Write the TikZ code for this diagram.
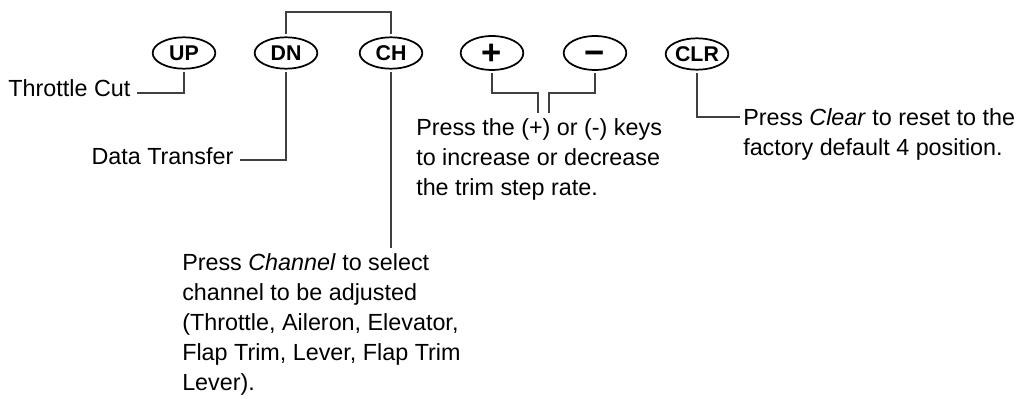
\documentclass[tikz,border=0pt]{standalone}
\usepackage{fontspec}
\setmainfont{Liberation Sans}
\usetikzlibrary{shapes.geometric,calc,positioning}

\begin{document}
\begin{tikzpicture}[
  x=0.75pt, y=-0.75pt,
  key/.style    = {ellipse, draw, line width=1.3pt, minimum width=47pt,
                   minimum height=23.5pt, inner sep=0pt, outer sep=2.5pt,
                   font=\fontsize{16}{16}\selectfont\bfseries},
  bigkey/.style = {key, text height=18pt, text depth=0pt,
                   font=\fontsize{26}{26}\selectfont\bfseries},
  wire/.style   = {black!75, line width=0.8pt},
  note/.style   = {inner sep=0pt, align=left,
                   font=\fontsize{17.5}{22.5}\selectfont},
  side/.style   = {note, outer xsep=5pt, text height=0.6em, text depth=0pt},
]
\useasboundingbox (0,0) rectangle (1016,399);

%% ---- keys ----------------------------------------------------------------
\node[key]    (up)    at (184,53) {UP};
\node[key]    (dn)    at (286,53) {DN};
\node[key]    (ch)    at (391,53) {CH};
\node[bigkey] (plus)  at (492,53) {+};
\node[bigkey] (minus) at (595,53) {−};
\node[key]    (clr)   at (697,54) {CLR};

%% ---- notes ---------------------------------------------------------------
\node[side, anchor=east] (thrcut) at (137,93) {Throttle Cut};
\node[side, anchor=east] (datatr) at (240,160) {Data Transfer};
\node[note, anchor=north west] (chtext) at (182,253)
  {Press \emph{Channel} to select\\channel to be adjusted\\
   (Throttle, Aileron, Elevator,\\Flap Trim, Lever, Flap Trim\\Lever).};
\node[note, anchor=north west] (pmtext) at (416,118)
  {Press the (+) or (-) keys\\to increase or decrease\\the trim step rate.};
\node[note, anchor=north west] (clrtext) at (743,108)
  {Press \emph{Clear} to reset to the\\factory default 4 position.};

\coordinate (pmL)    at (538,113);
\coordinate (pmR)    at (549,113);
\coordinate (clrend) at (740,117);

%% ---- connectors ----------------------------------------------------------
\draw[wire] (up.south) |- (thrcut.east);
\draw[wire] (dn.north) -- ++(0,-22) -| (ch.north);
\draw[wire] (dn.south) |- (datatr.east);
\draw[wire, shorten >=4pt] (ch.south) -- (ch.south |- chtext.north);
\draw[wire] (plus.south) |- ($(pmL)+(0,-20)$) -- (pmL);
\draw[wire] (minus.south) |- ($(pmR)+(0,-20)$) -- (pmR);
\draw[wire] (clr.south) |- (clrend);

\end{tikzpicture}
\end{document}
